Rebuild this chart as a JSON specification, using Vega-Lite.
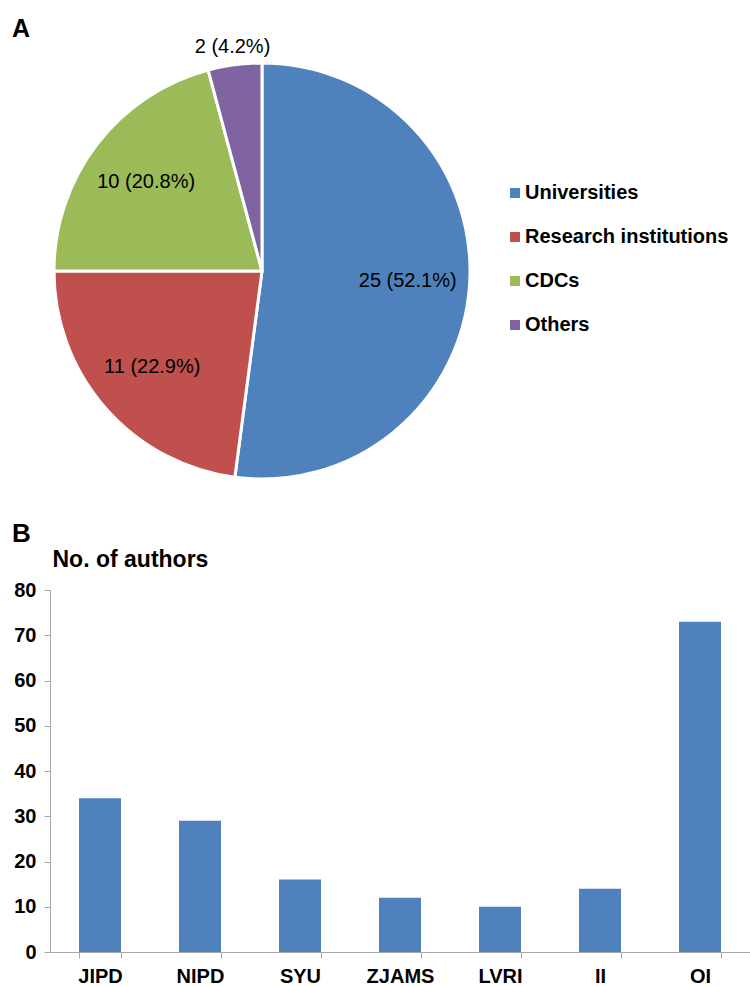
{
  "$schema": "https://vega.github.io/schema/vega-lite/v6.json",
  "padding": {"left": 12, "top": 16, "right": 0, "bottom": 0},
  "background": "white",
  "config": {"view": {"stroke": null}, "font": "Liberation Sans"},
  "spacing": 111,
  "bounds": "flush",
  "vconcat": [
    {
      "width": 424,
      "height": 416,
      "title": {"text": "A", "anchor": "start", "dx": -38, "fontSize": 25, "fontWeight": "bold", "baseline": "alphabetic", "offset": -25, "frame": "group", "color": "black"},
      "data": {"values": [
        {"group": "Universities", "count": 25, "idx": 1, "label": "25 (52.1%)"},
        {"group": "Research institutions", "count": 11, "idx": 2, "label": "11 (22.9%)"},
        {"group": "CDCs", "count": 10, "idx": 3, "label": "10 (20.8%)"},
        {"group": "Others", "count": 2, "idx": 4, "label": "2 (4.2%)"}
      ]},
      "encoding": {
        "theta": {"field": "count", "type": "quantitative", "stack": true},
        "order": {"field": "idx", "type": "quantitative"}
      },
      "layer": [
        {
          "mark": {"type": "arc", "outerRadius": 208, "stroke": "white", "strokeWidth": 3},
          "encoding": {
            "color": {
              "field": "group", "type": "nominal",
              "scale": {"domain": ["Universities", "Research institutions", "CDCs", "Others"], "range": ["#4F81BD", "#C0504D", "#9BBB59", "#8064A2"]},
              "legend": {"orient": "none", "legendX": 455, "legendY": 120, "title": null, "padding": 0, "labelFontSize": 20, "labelFontWeight": "bold", "labelColor": "black", "labelFont": "Liberation Sans", "labelLimit": 0, "symbolType": "square", "symbolSize": 100, "symbolStrokeWidth": 0, "rowPadding": 24, "labelOffset": 0}
            }
          }
        },
        {
          "mark": {"type": "text", "radius": 146, "fontSize": 20, "color": "black", "font": "Liberation Sans"},
          "encoding": {
            "text": {"condition": {"test": "datum.group !== 'Others'", "field": "label"}, "value": ""}
          }
        },
        {
          "mark": {"type": "text", "radius": 226, "fontSize": 20, "color": "black", "font": "Liberation Sans"},
          "encoding": {
            "text": {"condition": {"test": "datum.group === 'Others'", "field": "label"}, "value": ""}
          }
        }
      ]
    },
    {
      "width": 700,
      "height": 362,
      "title": {"text": "B", "anchor": "start", "dx": -38, "fontSize": 26, "fontWeight": "bold", "baseline": "alphabetic", "offset": -20, "frame": "group", "color": "black"},
      "data": {"values": [
        {"inst": "JIPD", "authors": 34},
        {"inst": "NIPD", "authors": 29},
        {"inst": "SYU", "authors": 16},
        {"inst": "ZJAMS", "authors": 12},
        {"inst": "LVRI", "authors": 10},
        {"inst": "II", "authors": 14},
        {"inst": "OI", "authors": 73}
      ]},
      "mark": {"type": "bar", "color": "#4F81BD"},
      "encoding": {
        "x": {
          "field": "inst", "type": "nominal", "sort": null,
          "scale": {"paddingInner": 0.58, "paddingOuter": 0.29},
          "axis": {"title": null, "labelAngle": 0, "labelFontSize": 20, "labelFontWeight": "bold", "labelColor": "black", "domainColor": "#a6a6a6", "tickColor": "#a6a6a6", "tickBand": "extent", "tickSize": 6, "labelPadding": 8}
        },
        "y": {
          "field": "authors", "type": "quantitative",
          "scale": {"domain": [0, 80]},
          "axis": {"values": [0, 10, 20, 30, 40, 50, 60, 70, 80], "grid": false, "title": "No. of authors", "titleAngle": 0, "titleAlign": "left", "titleBaseline": "alphabetic", "titleX": 2, "titleY": -24, "titleFontSize": 23, "titleFontWeight": "bold", "titleColor": "black", "labelFontSize": 20, "labelFontWeight": "bold", "labelColor": "black", "domainColor": "#a6a6a6", "tickColor": "#a6a6a6", "tickSize": 6, "labelPadding": 8}
        }
      }
    }
  ]
}
